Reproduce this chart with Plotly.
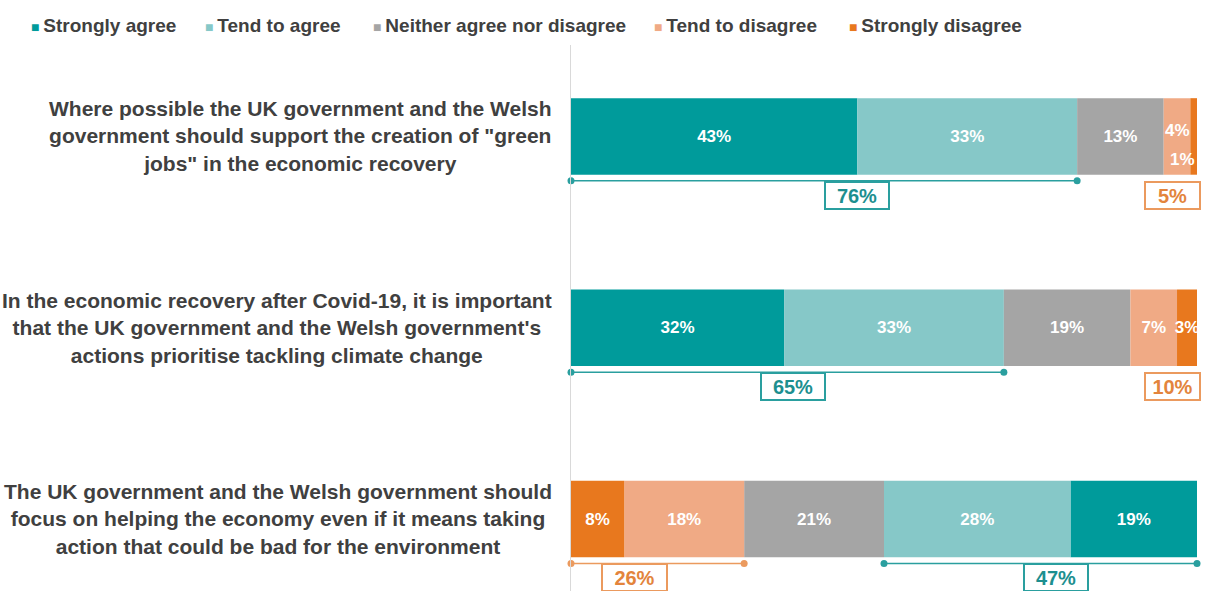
import plotly.graph_objects as go

# ---------------- data ----------------
statements = [
    'Where possible the UK government and the Welsh<br>government should support the creation of "green<br>jobs" in the economic recovery',
    "In the economic recovery after Covid-19, it is important<br>that the UK government and the Welsh government's<br>actions prioritise tackling climate change",
    "The UK government and the Welsh government should<br>focus on helping the economy even if it means taking<br>action that could be bad for the environment",
]
series_names = ["Strongly agree", "Tend to agree", "Neither agree nor disagree",
                "Tend to disagree", "Strongly disagree"]
strongly_agree = [43, 32, 19]
tend_to_agree = [33, 33, 28]
neither = [13, 19, 21]
tend_to_disagree = [4, 7, 18]
strongly_disagree = [1, 3, 8]
# third statement is worded negatively, so its scale is drawn reversed
reversed_rows = [False, False, True]

# net label positions (x, in % units) and whether the bracket line is drawn
agree_label_x = [43.0, 33.4, 72.9]
disagree_label_x = [90.3, 90.3, 9.6]
disagree_line_shown = [False, False, True]

# ---------------- styles ----------------
colors = ["#009b9b", "#86c8c8", "#a5a5a5", "#f0aa85", "#e8781e"]
teal_line = "#2a9f9f"
teal_text = "#1d8f8f"
orange_line = "#eb9a5e"
orange_text = "#e3843c"
FONT = "Liberation Sans, Arial, sans-serif"

series = [strongly_agree, tend_to_agree, neither, tend_to_disagree, strongly_disagree]
n_rows = len(statements)
rows = list(range(n_rows))

# bases from data
bases = [[0] * n_rows for _ in series]
for r in rows:
    order = list(range(len(series)))
    if reversed_rows[r]:
        order = order[::-1]
    cum = 0
    for s in order:
        bases[s][r] = cum
        cum += series[s][r]
totals = [sum(s[r] for s in series) for r in rows]

# labels that are too small to sit in the bar centre (row 1, tiny segments)
small_label_rows = {3: [0], 4: [0]}

fig = go.Figure()
for i, (name, vals) in enumerate(zip(series_names, series)):
    texts = []
    for r in rows:
        if r in small_label_rows.get(i, []):
            texts.append("")
        else:
            texts.append(f"{vals[r]}%")
    fig.add_trace(go.Bar(
        name=name, y=rows, x=vals, base=bases[i], orientation="h",
        marker=dict(color=colors[i], line=dict(width=0)),
        width=0.4, text=texts, textposition="inside", textangle=0,
        insidetextanchor="middle", constraintext="none",
        textfont=dict(color="white", size=17, family=FONT, weight="bold"),
        showlegend=False, hoverinfo="skip",
    ))

annotations = []
BAR_FONT = dict(color="white", size=17, family=FONT, weight="bold")

# small labels on row 0
r = 0
td_mid = bases[3][r] + tend_to_disagree[r] / 2
annotations.append(dict(x=td_mid, y=r, xref="x", yref="y", text=f"{tend_to_disagree[r]}%",
                        showarrow=False, yshift=6, font=BAR_FONT))
sd_end = bases[4][r] + strongly_disagree[r]
annotations.append(dict(x=sd_end, y=r, xref="x", yref="y", text=f"{strongly_disagree[r]}%",
                        showarrow=False, xanchor="right", yshift=-23, font=BAR_FONT))

# net brackets
LINE_DY = 0.232
for r in rows:
    a0 = min(bases[0][r], bases[1][r])
    a1 = max(bases[0][r] + strongly_agree[r], bases[1][r] + tend_to_agree[r])
    d0 = min(bases[3][r], bases[4][r])
    d1 = max(bases[3][r] + tend_to_disagree[r], bases[4][r] + strongly_disagree[r])
    agree_sum = strongly_agree[r] + tend_to_agree[r]
    disagree_sum = tend_to_disagree[r] + strongly_disagree[r]
    yl = r + LINE_DY
    fig.add_trace(go.Scatter(x=[a0, a1], y=[yl, yl], mode="lines+markers",
                             line=dict(color=teal_line, width=1.5),
                             marker=dict(size=7, color=teal_line),
                             showlegend=False, hoverinfo="skip", cliponaxis=False))
    if disagree_line_shown[r]:
        fig.add_trace(go.Scatter(x=[d0, d1], y=[yl, yl], mode="lines+markers",
                                 line=dict(color=orange_line, width=1.5),
                                 marker=dict(size=7, color=orange_line),
                                 showlegend=False, hoverinfo="skip", cliponaxis=False))
    annotations.append(dict(x=agree_label_x[r], y=yl, xref="x", yref="y",
                            text=f"{agree_sum}%", showarrow=False, yanchor="top", yshift=0,
                            bgcolor="white", bordercolor=teal_line, borderwidth=2, borderpad=2,
                            width=58, height=21,
                            font=dict(color=teal_text, size=20, family=FONT, weight="bold")))
    annotations.append(dict(x=disagree_label_x[r], y=yl, xref="x", yref="y",
                            text=f"{disagree_sum}%", showarrow=False, yanchor="top", yshift=0,
                            bgcolor="white", bordercolor=orange_line, borderwidth=2, borderpad=2,
                            width=49 if r < 2 else 59, height=21,
                            font=dict(color=orange_text, size=20, family=FONT, weight="bold")))

# statement labels
for r in rows:
    annotations.append(dict(x=0, y=r, xref="paper", yref="y", text=statements[r],
                            showarrow=False, xanchor="right", align="center", xshift=-17,
                            font=dict(color="#404040", size=21, family=FONT, weight="bold")))

# legend (drawn as text)
L, R = 571, 12
PW = 1209 - L - R
legend_px = [29, 203, 371, 652, 847]
for name, c, px in zip(series_names, colors, legend_px):
    annotations.append(dict(x=(px - L) / PW, y=1, xref="paper", yref="paper",
                            yanchor="bottom", yshift=7, xanchor="left", showarrow=False,
                            text=f'<span style="color:{c};font-size:14px">■ </span>{name}',
                            font=dict(color="#404040", size=19, family=FONT, weight="bold")))

fig.update_layout(
    width=1209, height=591,
    margin=dict(l=L, r=R, t=45, b=0),
    plot_bgcolor="white", paper_bgcolor="white",
    barmode="overlay", showlegend=False,
    xaxis=dict(range=[0, max(totals)], visible=False, fixedrange=True),
    yaxis=dict(range=[2.376, -0.478], showticklabels=False, showgrid=False,
               zeroline=False, showline=True, linecolor="#d9d9d9", linewidth=1,
               ticks="", fixedrange=True),
    annotations=annotations,
    font=dict(family=FONT),
)

fig.write_html("out.html", config={"displayModeBar": False})
